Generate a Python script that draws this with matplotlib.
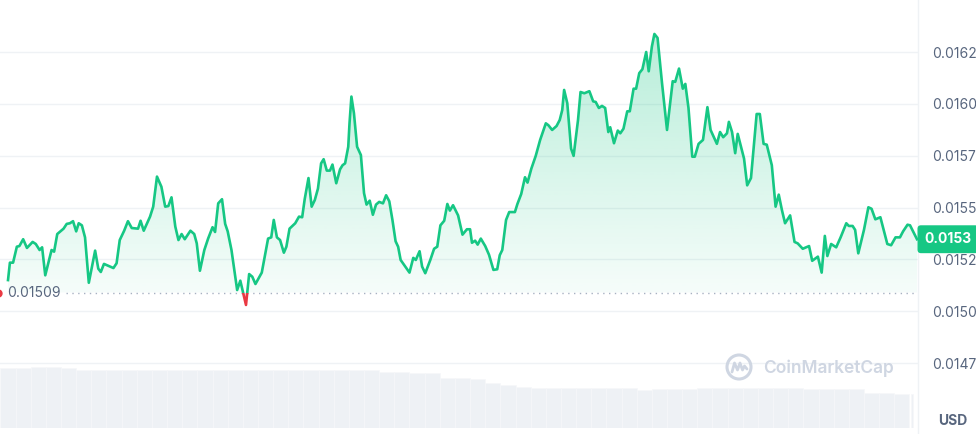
import numpy as np
import matplotlib
matplotlib.use("Agg")
import matplotlib.pyplot as plt
from matplotlib.patches import Polygon, Rectangle, Ellipse
from matplotlib.transforms import blended_transform_factory
import matplotlib.colors as mcolors

plt.rcParams['font.family'] = ['Inter', 'DejaVu Sans']

# ---------------- data ----------------
minutes = [
    0, 3, 8, 14, 18, 24, 30, 39, 44, 50,
    54, 59, 69, 73, 78, 88, 93, 98, 103, 108,
    112, 117, 122, 128, 138, 143, 147, 152, 162, 167,
    172, 177, 184, 190, 196, 206, 210, 215, 225, 230,
    236, 243, 249, 254, 259, 265, 270, 275, 280, 289,
    295, 299, 304, 311, 317, 324, 328, 333, 339, 344,
    348, 354, 363, 368, 372, 377, 382, 387, 392, 402,
    412, 417, 421, 426, 431, 437, 441, 446, 455, 461,
    466, 470, 476, 481, 486, 491, 496, 500, 505, 510,
    514, 520, 526, 530, 534, 539, 541, 544, 548, 553,
    559, 564, 568, 573, 578, 583, 588, 594, 599, 604,
    609, 614, 618, 622, 628, 636, 642, 646, 652, 656,
    661, 669, 675, 680, 685, 691, 696, 700, 705, 713,
    720, 727, 732, 735, 740, 744, 749, 756, 762, 769,
    775, 779, 783, 789, 794, 803, 807, 813, 819, 823,
    829, 836, 843, 852, 856, 862, 869, 874, 878, 881,
    886, 892, 896, 903, 907, 913, 921, 927, 931, 936,
    941, 946, 951, 954, 960, 966, 970, 975, 981, 985,
    991, 995, 1000, 1005, 1011, 1015, 1020, 1024, 1029, 1036,
    1044, 1053, 1057, 1063, 1069, 1073, 1078, 1084, 1088, 1094,
    1101, 1108, 1113, 1123, 1128, 1133, 1139, 1142, 1147, 1152,
    1156, 1166, 1171, 1177, 1186, 1191, 1197, 1202, 1210, 1216,
    1221, 1226, 1231, 1239, 1246, 1251, 1259, 1269, 1274, 1283,
    1289, 1294, 1298, 1304, 1312, 1319, 1328, 1332, 1338, 1342,
    1347, 1356, 1363, 1368, 1374, 1382, 1393, 1399, 1406, 1413,
    1418, 1425, 1429, 1440,
]

price = [
    0.015150, 0.015234, 0.015234, 0.015311, 0.015314, 0.015347, 0.015305, 0.015334, 0.015324, 0.015295,
    0.015308, 0.015173, 0.015295, 0.015287, 0.015372, 0.015398, 0.015421, 0.015424, 0.015434, 0.015385,
    0.015424, 0.015414, 0.015356, 0.015137, 0.015292, 0.015205, 0.015189, 0.015228, 0.015215, 0.015208,
    0.015231, 0.015343, 0.015388, 0.015434, 0.015401, 0.015398, 0.015436, 0.015388, 0.015456, 0.015504,
    0.015649, 0.015600, 0.015504, 0.015507, 0.015549, 0.015408, 0.015343, 0.015372, 0.015347, 0.015388,
    0.015372, 0.015327, 0.015195, 0.015295, 0.015350, 0.015405, 0.015382, 0.015520, 0.015540, 0.015421,
    0.015385, 0.015295, 0.015102, 0.015147, 0.015094, 0.015030, 0.015179, 0.015166, 0.015131, 0.015186,
    0.015350, 0.015356, 0.015440, 0.015356, 0.015343, 0.015282, 0.015311, 0.015398, 0.015424, 0.015456,
    0.015453, 0.015540, 0.015642, 0.015504, 0.015536, 0.015591, 0.015713, 0.015733, 0.015678, 0.015678,
    0.015707, 0.015617, 0.015684, 0.015704, 0.015713, 0.015793, 0.015906, 0.016035, 0.015955, 0.015793,
    0.015753, 0.015569, 0.015514, 0.015533, 0.015465, 0.015514, 0.015527, 0.015520, 0.015559, 0.015530,
    0.015440, 0.015337, 0.015311, 0.015247, 0.015221, 0.015186, 0.015257, 0.015247, 0.015289, 0.015215,
    0.015183, 0.015247, 0.015301, 0.015311, 0.015414, 0.015436, 0.015517, 0.015485, 0.015511, 0.015462,
    0.015369, 0.015395, 0.015395, 0.015330, 0.015340, 0.015321, 0.015350, 0.015314, 0.015272, 0.015199,
    0.015202, 0.015270, 0.015295, 0.015440, 0.015478, 0.015478, 0.015517, 0.015565, 0.015646, 0.015620,
    0.015687, 0.015749, 0.015826, 0.015906, 0.015897, 0.015874, 0.015893, 0.015922, 0.015970, 0.016067,
    0.016003, 0.015784, 0.015749, 0.015922, 0.016057, 0.016051, 0.016061, 0.016012, 0.016009, 0.015980,
    0.015990, 0.015980, 0.015864, 0.015887, 0.015810, 0.015871, 0.015858, 0.015880, 0.015964, 0.015964,
    0.016073, 0.016073, 0.016148, 0.016167, 0.016250, 0.016157, 0.016276, 0.016337, 0.016318, 0.016102,
    0.015874, 0.016109, 0.016106, 0.016170, 0.016073, 0.016096, 0.015980, 0.015745, 0.015745, 0.015807,
    0.015826, 0.015984, 0.015874, 0.015807, 0.015864, 0.015839, 0.015858, 0.015913, 0.015864, 0.015762,
    0.015855, 0.015736, 0.015607, 0.015642, 0.015951, 0.015951, 0.015807, 0.015803, 0.015704, 0.015504,
    0.015562, 0.015488, 0.015424, 0.015462, 0.015334, 0.015327, 0.015301, 0.015314, 0.015243, 0.015263,
    0.015186, 0.015363, 0.015266, 0.015324, 0.015308, 0.015356, 0.015424, 0.015411, 0.015411, 0.015392,
    0.015279, 0.015392, 0.015501, 0.015494, 0.015443, 0.015453, 0.015324, 0.015318, 0.015356, 0.015356,
    0.015385, 0.015417, 0.015414, 0.015347,
]

vol_minutes = [
    0, 24, 48, 72, 96, 120, 144, 168, 192, 216,
    240, 264, 288, 312, 336, 360, 384, 408, 432, 456,
    480, 504, 528, 552, 576, 600, 624, 648, 672, 696,
    720, 744, 768, 792, 816, 840, 864, 888, 912, 936,
    960, 984, 1008, 1032, 1056, 1080, 1104, 1128, 1152, 1176,
    1200, 1224, 1248, 1272, 1296, 1320, 1344, 1368, 1392, 1416,
    1432,
]
volume = [
    59.4, 59.4, 60.4, 60.4, 60.0, 58.0, 58.0, 58.0, 58.0, 58.0,
    58.0, 58.0, 58.0, 58.0, 58.0, 58.0, 58.0, 58.0, 58.0, 58.0,
    58.0, 58.0, 58.0, 58.0, 57.5, 56.0, 55.5, 55.0, 54.5, 50.0,
    49.5, 49.0, 45.0, 43.0, 41.0, 39.5, 39.4, 39.4, 39.4, 39.4,
    39.4, 39.4, 37.5, 38.5, 38.5, 38.5, 40.0, 40.0, 39.7, 39.7,
    39.7, 39.7, 39.7, 38.5, 38.5, 38.5, 38.5, 35.0, 34.5, 33.7,
    33.7,
]
vol_widths = [24] * 60 + [4]

tick_values = [0.01475, 0.01500, 0.01525, 0.01550, 0.01575, 0.01600, 0.01625]
tick_labels = ['0.0147', '0.0150', '0.0152', '0.0155', '0.0157', '0.0160', '0.0162']
open_price = 0.01509
open_label = '0.01509'
last_label = '0.0153'
currency = 'USD'
watermark = 'CoinMarketCap'

GREEN = '#16c784'
RED = '#ea3943'
TEXT = '#58667e'
GRID = '#eff2f5'
WM = '#cfd6e2'

W, H = 976, 434
fig = plt.figure(figsize=(W / 100, H / 100), dpi=100)
fig.patch.set_facecolor('white')

XMIN, XMAX = -12.7, 1441.6
YMIN, YMAX = 0.0144076, 0.0165008

# ---------- volume axes ----------
axv = fig.add_axes([0, 6.3 / H, 918 / W, 70 / H], zorder=0)
axv.bar(vol_minutes, volume, width=vol_widths, color='#eef1f5',
        edgecolor='#f6f7f9', linewidth=0.5, align='center')
axv.set_xlim(XMIN, XMAX)
axv.set_ylim(0, 70)
axv.axis('off')

# ---------- price axes ----------
ax = fig.add_axes([0, 0, 918 / W, 1], zorder=1)
ax.patch.set_alpha(0)

x = np.array(minutes, dtype=float)
y = np.array(price)

# gradient fill under the line (down to the open price)
n = 256
rgba = np.zeros((n, 1, 4))
rgba[..., :3] = mcolors.to_rgb(GREEN)
grad_bottom = 0.014895
rgba[:, 0, 3] = np.linspace(0.0, 0.34, n)
im = ax.imshow(rgba, extent=[x[0], x[-1], grad_bottom, YMAX], origin='lower',
               aspect='auto', zorder=2, interpolation='bilinear')
verts = np.column_stack([np.r_[x[0], x, x[-1]],
                         np.r_[open_price, np.maximum(y, open_price), open_price]])
poly = Polygon(verts, closed=True, transform=ax.transData, facecolor='none', edgecolor='none')
ax.add_patch(poly)
im.set_clip_path(poly)

# red fill where below open
ax.fill_between(x, y, open_price, where=y < open_price, interpolate=True,
                color=RED, alpha=0.12, linewidth=0, zorder=2)

# line: green above open, red below open
lg, = ax.plot(x, y, color=GREEN, lw=1.9, zorder=4, solid_joinstyle='round')
lg.set_clip_path(Rectangle((XMIN - 100, open_price), 3000, 0.01, transform=ax.transData))
lr, = ax.plot(x, y, color=RED, lw=1.9, zorder=4, solid_joinstyle='round')
lr.set_clip_path(Rectangle((XMIN - 100, open_price - 0.01), 3000, 0.01, transform=ax.transData))

# open price dotted line and label
ax.axhline(open_price, xmin=66 / 918, xmax=915 / 918, color='#a7b1c2',
           lw=1.0, ls=(0, (1, 3.2)), zorder=3)
bt = blended_transform_factory(ax.transAxes, ax.transData)
ax.text(7 / 918, open_price, open_label, transform=bt, ha='left', va='center',
        fontsize=10, color=TEXT, zorder=5)
ax.plot([-2 / 918], [open_price], transform=bt, marker='o', ms=5, color=RED,
        clip_on=False, zorder=5)

ax.set_xlim(XMIN, XMAX)
ax.set_ylim(YMIN, YMAX)

# axis styling
ax.set_xticks([])
ax.yaxis.tick_right()
ax.set_yticks(tick_values)
ax.set_yticklabels(tick_labels)
ax.tick_params(axis='y', length=0, pad=10, labelsize=10, labelcolor=TEXT)
ax.grid(axis='y', color=GRID, lw=1.0, zorder=0)
for s in ['top', 'left', 'bottom']:
    ax.spines[s].set_visible(False)
ax.spines['right'].set_color(GRID)
ax.spines['right'].set_linewidth(1.0)

# last price badge
btf = blended_transform_factory(fig.transFigure, ax.transData)
ax.text(948 / W, y[-1], last_label, transform=btf, ha='center', va='center',
        fontsize=10, fontweight='bold', color='white', zorder=6, clip_on=False,
        bbox=dict(boxstyle='round,pad=0.5,rounding_size=0.25', fc=GREEN, ec='none'))

# currency label
fig.text(953 / W, 1 - 421 / H, currency, ha='center', va='center', fontsize=10,
         fontweight='bold', color=TEXT)

# watermark
fig.text(763 / W, 1 - 368 / H, watermark, ha='left', va='center', fontsize=12.5,
         fontweight='semibold', color=WM)
cx, cy, r = 739, 367, 12
fig.patches.append(Ellipse((cx / W, 1 - cy / H), 2 * r / W, 2 * r / H,
                           transform=fig.transFigure, fill=False, ec=WM, lw=2.2))
wx = np.array([-7, -4.5, -1.5, 1, 3.5, 5.5, 8]) + cx
wy = np.array([5, -4, 3, -4, 3, -1, 2]) + cy
fig.add_artist(plt.Line2D(wx / W, 1 - wy / H, transform=fig.transFigure, color=WM,
                          lw=2.0, solid_joinstyle='round', solid_capstyle='round'))

fig.savefig('out.png', dpi=100, facecolor='white')
